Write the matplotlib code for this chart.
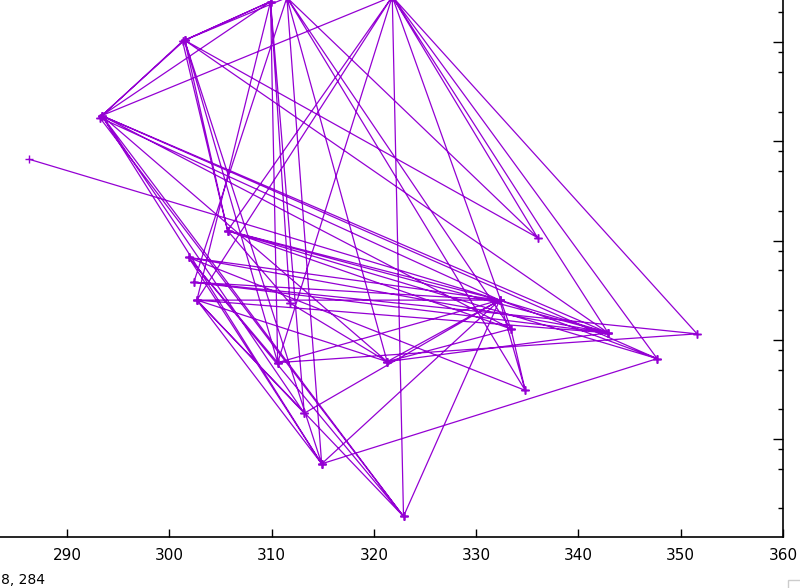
import numpy as np
import matplotlib
matplotlib.use('Agg')
import matplotlib.pyplot as plt
from matplotlib.patches import Rectangle

# Knoten (x, y)
node_x = [286.3, 293.4, 301.5, 309.9, 311.5, 321.8, 336.0, 332.3, 333.4, 342.9,
          351.6, 347.7, 334.8, 321.3, 310.6, 311.8, 314.9, 322.9, 301.9, 302.4,
          302.7, 305.7, 313.2, 293.2, 301.3]
node_y = [278.2, 282.6, 290.2, 294.1, 294.5, 294.6, 270.3, 264.0, 261.1, 260.7,
          260.6, 258.1, 254.9, 257.8, 257.7, 263.7, 247.5, 242.2, 268.3, 265.8,
          264.0, 271.0, 252.6, 282.4, 290.1]

# Kanten zwischen den Knoten
edges = [(0, 7), (1, 2), (23, 24), (1, 3), (1, 5), (1, 8), (23, 7), (1, 9),
         (1, 11), (1, 13), (1, 16), (1, 17), (23, 17), (1, 22), (2, 3), (24, 3),
         (2, 4), (2, 6), (2, 9), (2, 21), (24, 21), (2, 14), (2, 16), (3, 15),
         (3, 20), (3, 14), (4, 6), (4, 8), (4, 16), (4, 19), (4, 12), (5, 17),
         (5, 6), (5, 9), (5, 10), (5, 11), (5, 20), (5, 21), (5, 14), (5, 8),
         (7, 18), (7, 19), (7, 20), (7, 13), (7, 14), (7, 16), (7, 9), (7, 11),
         (7, 21), (7, 12), (7, 17), (8, 13), (8, 12), (8, 21), (9, 18), (9, 21),
         (9, 20), (10, 19), (11, 16), (14, 10), (12, 18), (13, 15), (13, 20),
         (14, 18), (16, 20), (16, 18), (17, 20), (17, 18), (22, 20), (22, 7),
         (15, 21), (13, 9), (21, 11), (19, 9), (3, 22), (4, 13)]

x_ticks = [290, 300, 310, 320, 330, 340, 350, 360]
y_major = [250, 260, 270, 280, 290]
y_minor = [243, 247, 249, 253, 257, 259, 263, 267, 269, 273, 277, 279, 283, 287, 289, 293]

xs, ys = [], []
for a, b in edges:
    xs += [node_x[a], node_x[b], np.nan]
    ys += [node_y[a], node_y[b], np.nan]

fig = plt.figure(figsize=(8, 5.88), dpi=100)
# Achsen reichen links und oben aus dem Bild heraus (Ausschnitt)
left_px = (270 - 283.45) / 0.09775
top_px = 439 - (300 - 250) * 9.92
ax = fig.add_axes([left_px / 800, 51 / 588, (783 - left_px) / 800, (537 - top_px) / 588])

ax.plot(xs, ys, color='#9400d3', lw=0.9, marker='+', ms=6, mew=1.0)

ax.set_xlim(270, 360)
ax.set_ylim(250 - 98 / 9.92, 300)
ax.set_xticks(x_ticks)
ax.set_yticks(y_major)
ax.set_yticks(y_minor, minor=True)
ax.tick_params(axis='x', direction='in', length=6, width=1, pad=8, labelsize=11,
               top=True, colors='black')
ax.tick_params(axis='y', which='major', direction='in', length=7, width=1,
               left=True, right=True, labelleft=False, labelright=False)
ax.tick_params(axis='y', which='minor', direction='in', length=3.6, width=1,
               left=True, right=True, labelleft=False, labelright=False)
for lab in ax.get_xticklabels():
    lab.set_family(['Liberation Sans Narrow', 'DejaVu Sans'])
for s in ax.spines.values():
    s.set_linewidth(1.2)

fig.text(1 / 800, 1 / 588, '8, 284', fontsize=10, va='bottom', ha='left',
         family=['Liberation Sans Narrow', 'DejaVu Sans'])
fig.patches.append(Rectangle((788 / 800, -0.01), 0.05, 14 / 588, transform=fig.transFigure,
                             facecolor='white', edgecolor='#cccccc', lw=1))

fig.savefig('out.png', dpi=100)
